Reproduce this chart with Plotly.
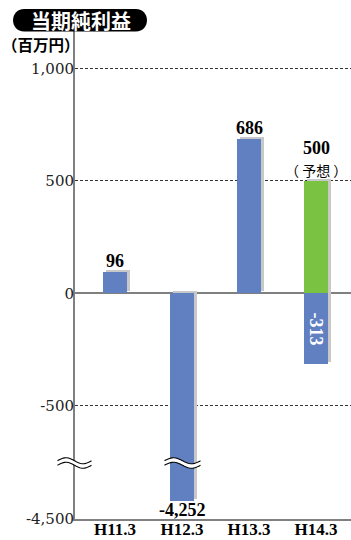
import numpy as np
import plotly.graph_objects as go

# ---- data (百万円) ----
periods = ["H11.3", "H12.3", "H13.3", "H14.3"]
results = [96, -4252, 686, -313]
forecast = [None, None, None, 500]
result_labels = ["96", "-4,252", "686", "-313"]
forecast_label = "500"
upper_ticks = [-500, 0, 500, 1000]
upper_tick_text = ["-500", "0", "500", "1,000"]
lower_ticks = [-4500]
lower_tick_text = ["-4,500"]

# ---- layout geometry (pixels) ----
W, H = 351, 540
L, R, T, B = 75, 0, 31, 21
PW, PH = W - L - R, H - T - B
BREAK_PX = 56                      # height of the lower (broken) panel
low_frac = BREAK_PX / PH
upper_range = [-754, 1166]
lower_range = [-4500, -3729]
x_range = [-0.597, 3.522]
bar_w = 0.35
shadow_dx = 0.045

BLUE = "rgb(97,128,194)"
GREEN = "rgb(122,194,66)"
SHADOW = "rgb(200,200,200)"
AXIS = "rgb(128,128,128)"
SERIF = "Liberation Serif"
CJK = "Noto Sans CJK JP"

# shadow lift of 2px expressed in each panel's units
up_scale = (PH - BREAK_PX) / (upper_range[1] - upper_range[0])
lo_scale = BREAK_PX / (lower_range[1] - lower_range[0])
lift_up = 2 / up_scale
lift_lo = 2 / lo_scale

fig = go.Figure()

for xa, ya, lift in (("x", "y", lift_up), ("x2", "y2", lift_lo)):
    # drop shadow behind each bar
    fig.add_trace(go.Bar(x=periods, y=results, base=lift, width=bar_w,
                         offset=-bar_w / 2 + shadow_dx, marker_color=SHADOW,
                         marker_line_width=0, xaxis=xa, yaxis=ya,
                         showlegend=False, hoverinfo="skip"))
    fig.add_trace(go.Bar(x=periods, y=forecast, base=lift, width=bar_w,
                         offset=-bar_w / 2 + shadow_dx, marker_color=SHADOW,
                         marker_line_width=0, xaxis=xa, yaxis=ya,
                         showlegend=False, hoverinfo="skip"))
    # actual results and forecast
    fig.add_trace(go.Bar(x=periods, y=results, width=bar_w, offset=-bar_w / 2,
                         marker_color=BLUE, marker_line_width=0,
                         xaxis=xa, yaxis=ya, showlegend=False))
    fig.add_trace(go.Bar(x=periods, y=forecast, width=bar_w, offset=-bar_w / 2,
                         marker_color=GREEN, marker_line_width=0,
                         xaxis=xa, yaxis=ya, showlegend=False))


def paper(px, py):
    return (px - L) / PW, (H - B - py) / PH


def wave_paths(cx, cy, width=34, amp=3.0, gap=4.5, n=30):
    t = np.linspace(0, 1, n)
    xs = cx - width / 2 + width * t
    up = cy - gap / 2 - amp * np.sin(2 * np.pi * t)
    lo = cy + gap / 2 - amp * np.sin(2 * np.pi * t)
    def to_path(xx, yy):
        pts = [paper(a, b) for a, b in zip(xx, yy)]
        return "M " + " L ".join(f"{a:.5f},{b:.5f}" for a, b in pts)
    fill = to_path(np.r_[xs, xs[::-1]], np.r_[up, lo[::-1]]) + " Z"
    return fill, to_path(xs, up), to_path(xs, lo)


shapes = []
break_y = H - B - BREAK_PX
for cx, wd in ((L - 0.5, 34), (182.5, 36)):
    fill, top, bot = wave_paths(cx, break_y, width=wd)
    shapes.append(dict(type="path", path=fill, xref="paper", yref="paper",
                       fillcolor="white", line=dict(width=0), layer="above"))
    for p in (top, bot):
        shapes.append(dict(type="path", path=p, xref="paper", yref="paper",
                           line=dict(color="black", width=1.1), layer="above"))

# title pill
x0, x1, y0, y1 = 13, 147, 9, 31.5
r = (y1 - y0) / 2
pill_path = (
    "M {:.5f},{:.5f} L {:.5f},{:.5f} C {:.5f},{:.5f} {:.5f},{:.5f} {:.5f},{:.5f} "
    "L {:.5f},{:.5f} C {:.5f},{:.5f} {:.5f},{:.5f} {:.5f},{:.5f} Z"
).format(
    *paper(x0 + r, y0), *paper(x1 - r, y0),
    *paper(x1 - r + r * 1.33, y0), *paper(x1 - r + r * 1.33, y1), *paper(x1 - r, y1),
    *paper(x0 + r, y1),
    *paper(x0 + r - r * 1.33, y1), *paper(x0 + r - r * 1.33, y0), *paper(x0 + r, y0),
)
shapes.append(dict(type="path", path=pill_path, xref="paper", yref="paper",
                   fillcolor="black", line=dict(width=0), layer="above"))

label_font = dict(family=SERIF, size=18, color="black", weight="bold")
annotations = [
    dict(text="当期純利益", x=paper(81, 20)[0], y=paper(81, 20)[1], xref="paper",
         yref="paper", showarrow=False, xanchor="center", yanchor="middle",
         font=dict(family=CJK, size=20, color="white", weight="bold")),
    dict(text="（百万円）", x=paper(0, 44)[0], y=paper(0, 44)[1], xref="paper",
         yref="paper", showarrow=False, xanchor="left", yanchor="middle",
         font=dict(family=CJK, size=15.5, color="black", weight="bold")),
]
for i, (p, v, lab) in enumerate(zip(periods, results, result_labels)):
    if v >= 0:
        annotations.append(dict(text=lab, x=p, y=v, xref="x", yref="y",
                                showarrow=False, yanchor="bottom", yshift=-1,
                                font=label_font))
    elif v < upper_range[0]:
        annotations.append(dict(text=lab, x=p, y=v, xref="x2", yref="y2",
                                showarrow=False, yanchor="top", yshift=3,
                                font=label_font))
    else:
        annotations.append(dict(text=lab, x=p, y=v / 2, xref="x", yref="y",
                                showarrow=False, textangle=90,
                                font=dict(family=SERIF, size=18, color="white",
                                          weight="bold")))
annotations.append(dict(text=forecast_label, x=periods[3], y=forecast[3],
                        xref="x", yref="y", showarrow=False, yanchor="bottom",
                        yshift=21, font=label_font))
annotations.append(dict(text="（ 予想 ）", x=periods[3], y=forecast[3],
                        xref="x", yref="y", showarrow=False, yanchor="bottom",
                        yshift=-1, font=dict(family=CJK, size=14, color="black")))

tick_font = dict(family="DejaVu Serif", size=15, color="#222")
fig.update_layout(
    width=W, height=H,
    margin=dict(l=L, r=R, t=T, b=B, pad=0, autoexpand=False),
    paper_bgcolor="white", plot_bgcolor="white",
    barmode="overlay", bargap=0,
    xaxis=dict(domain=[0, 1], range=x_range, anchor="y", type="category",
               showticklabels=False, showline=False, showgrid=False,
               zeroline=False, ticks="", categoryorder="array",
               categoryarray=periods, automargin=False),
    xaxis2=dict(domain=[0, 1], range=x_range, anchor="y2", type="category",
                showline=True, linecolor=AXIS, linewidth=2, showgrid=False,
                zeroline=False, ticks="", ticklabelstandoff=-6, automargin=False,
                categoryorder="array", categoryarray=periods,
                tickfont=dict(family=SERIF, size=17, color="black",
                              weight="bold")),
    yaxis=dict(domain=[low_frac, 1], range=upper_range, anchor="x",
               tickvals=upper_ticks, ticktext=upper_tick_text, automargin=False,
               showline=True, linecolor=AXIS, linewidth=2, ticks="",
               ticklabelstandoff=-4, tickfont=tick_font,
               showgrid=True, gridcolor="#333", gridwidth=1, griddash="3px,2px",
               zeroline=True, zerolinecolor=AXIS, zerolinewidth=2),
    yaxis2=dict(domain=[0, low_frac], range=lower_range, anchor="x2",
                tickvals=lower_ticks, ticktext=lower_tick_text, automargin=False,
                showline=True, linecolor=AXIS, linewidth=2, ticks="",
                ticklabelstandoff=-4, tickfont=tick_font,
                showgrid=False, zeroline=False),
    shapes=shapes,
    annotations=annotations,
)

fig.write_html("out.html")
